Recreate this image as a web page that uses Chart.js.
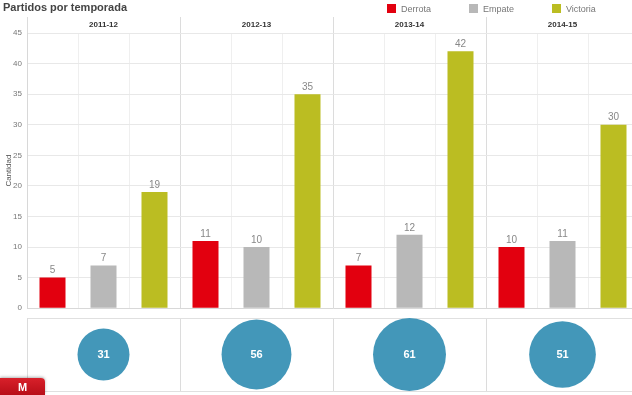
<!DOCTYPE html>
<html>
<head>
<meta charset="utf-8">
<script src="https://cdn.jsdelivr.net/npm/chart.js@4/dist/chart.umd.min.js"></script>
<style>
  html, body { margin: 0; padding: 0; background: #fff; overflow: hidden; width: 632px; height: 395px; }
  #wrap { position: relative; width: 632px; height: 395px; overflow: hidden; font-family: Arial, "Liberation Sans", sans-serif; }
  #title { position: absolute; left: 3px; top: 1px; font-size: 11px; font-weight: bold; color: #444; }
  #legend { position: absolute; top: 4px; left: 387px; font-size: 9px; color: #777; }
  #legend span.item { position: absolute; white-space: nowrap; }
  #legend i { display: inline-block; width: 9px; height: 9px; margin-right: 5px; vertical-align: -1px; }
  #barBox { position: absolute; left: 0; top: 0; width: 645px; height: 318px; }
  #bubbleBox { position: absolute; left: 0; top: 317px; width: 645px; height: 78px; }
  #logo { position: absolute; left: 0; top: 378px; width: 45px; height: 17px; background: linear-gradient(#d8202a, #b80e18);
          border-top-right-radius: 4px; color: #fff; font: bold 11px Arial, sans-serif; text-align: center; line-height: 19px;
          box-shadow: 0 -1px 3px rgba(0,0,0,0.3); }
</style>
</head>
<body>
<div id="wrap">
  <div id="barBox"><canvas id="barChart"></canvas></div>
  <div id="bubbleBox"><canvas id="bubbleChart"></canvas></div>
  <div id="title">Partidos por temporada</div>
  <div id="legend"></div>
  <div id="logo">M</div>
</div>
<script>
// Datos
const seasons = ['2011-12', '2012-13', '2013-14', '2014-15'];
const outcomes = ['Derrota', 'Empate', 'Victoria'];
const derrota = [5, 11, 7, 10];
const empate = [7, 10, 12, 11];
const victoria = [19, 35, 42, 30];
const totals = [31, 56, 61, 51];
const yTicks = [0, 5, 10, 15, 20, 25, 30, 35, 40, 45];

const colors = ['#e2000f', '#b8b8b8', '#bbbd22'];
const bubbleColor = '#4397b9';

// HTML legend
const legendPos = [0, 82, 165];
const legend = document.getElementById('legend');
outcomes.forEach(function (name, i) {
    const s = document.createElement('span');
    s.className = 'item';
    s.style.left = legendPos[i] + 'px';
    s.innerHTML = '<i style="background:' + colors[i] + '"></i>' + name;
    legend.appendChild(s);
});

// 12 categories: season x outcome
const labels = [];
seasons.forEach(function (s) {
    outcomes.forEach(function (o) { labels.push(s + ' ' + o); });
});

function spread(values, slot) {
    const out = new Array(labels.length).fill(null);
    values.forEach(function (v, i) { out[i * 3 + slot] = v; });
    return out;
}

const valueLabels = {
    id: 'valueLabels',
    afterDatasetsDraw(chart) {
        const ctx = chart.ctx;
        ctx.save();
        ctx.font = '10px Arial, "Liberation Sans", sans-serif';
        ctx.fillStyle = '#888';
        ctx.textAlign = 'center';
        ctx.textBaseline = 'bottom';
        chart.data.datasets.forEach(function (ds, di) {
            chart.getDatasetMeta(di).data.forEach(function (bar, i) {
                if (ds.data[i] === null) return;
                ctx.fillText(ds.data[i], bar.x, bar.y - 2);
            });
        });
        ctx.restore();
    }
};

const gridFont = { family: 'Arial, "Liberation Sans", sans-serif', size: 8 };

new Chart(document.getElementById('barChart'), {
    type: 'bar',
    data: {
        labels: labels,
        datasets: [
            { label: outcomes[0], data: spread(derrota, 0), backgroundColor: colors[0] },
            { label: outcomes[1], data: spread(empate, 1), backgroundColor: colors[1] },
            { label: outcomes[2], data: spread(victoria, 2), backgroundColor: colors[2] },
        ],
    },
    options: {
        responsive: true,
        maintainAspectRatio: false,
        animation: false,
        layout: { autoPadding: false, padding: { top: 17, bottom: 6, right: 6 } },
        datasets: { bar: { grouped: false, barPercentage: 0.51, categoryPercentage: 1 } },
        plugins: { legend: { display: false }, tooltip: { enabled: false } },
        scales: {
            x: {
                offset: true,
                grid: {
                    offset: true,
                    drawTicks: false,
                    color: function (c) { return c.index % 3 === 0 ? '#dcdcdc' : '#efefef'; },
                },
                border: { color: '#d8d8d8' },
                ticks: { display: false },
            },
            xTop: {
                type: 'category',
                labels: seasons,
                position: 'top',
                offset: true,
                grid: { offset: true, drawOnChartArea: false, tickLength: 16, color: '#dcdcdc' },
                border: { display: false },
                ticks: {
                    padding: -13,
                    color: '#333',
                    font: { family: gridFont.family, size: 8, weight: 'bold' },
                },
                afterFit: function (s) { s.height = 16; },
            },
            y: {
                min: 0,
                max: 45,
                afterBuildTicks: function (s) { s.ticks = yTicks.map(function (v) { return { value: v }; }); },
                grid: { color: '#e8e8e8', drawTicks: false },
                border: { color: '#d8d8d8' },
                ticks: { color: '#777', font: gridFont, padding: 5 },
                title: { display: true, text: 'Cantidad', color: '#555', font: gridFont, padding: { top: 4, bottom: 0 } },
                afterFit: function (s) { s.width = 27; },
            },
        },
    },
    plugins: [valueLabels],
});

const bubbleLabels = {
    id: 'bubbleLabels',
    afterDatasetsDraw(chart) {
        const ctx = chart.ctx;
        ctx.save();
        ctx.font = 'bold 11px Arial, "Liberation Sans", sans-serif';
        ctx.fillStyle = '#fff';
        ctx.textAlign = 'center';
        ctx.textBaseline = 'middle';
        chart.getDatasetMeta(0).data.forEach(function (pt, i) {
            ctx.fillText(totals[i], pt.x, pt.y);
        });
        ctx.restore();
    }
};

new Chart(document.getElementById('bubbleChart'), {
    type: 'bubble',
    data: {
        labels: seasons,
        datasets: [{
            label: 'Total',
            data: totals.map(function (t, i) { return { x: seasons[i], y: 0.5, r: 4.67 * Math.sqrt(t) }; }),
            backgroundColor: bubbleColor,
            borderColor: bubbleColor,
            borderWidth: 0,
            clip: false,
        }],
    },
    options: {
        responsive: true,
        maintainAspectRatio: false,
        animation: false,
        layout: { autoPadding: false, padding: { left: 27, top: 1, bottom: 4, right: 6 } },
        plugins: { legend: { display: false }, tooltip: { enabled: false } },
        scales: {
            x: {
                type: 'category',
                offset: true,
                grid: { offset: true, drawTicks: false, color: '#dcdcdc' },
                border: { color: '#e0e0e0' },
                ticks: { display: false },
            },
            y: {
                min: 0,
                max: 1,
                ticks: { display: false, stepSize: 1 },
                grid: { drawTicks: false, color: '#e0e0e0' },
                border: { color: '#dcdcdc' },
            },
        },
    },
    plugins: [bubbleLabels],
});
</script>
</body>
</html>
